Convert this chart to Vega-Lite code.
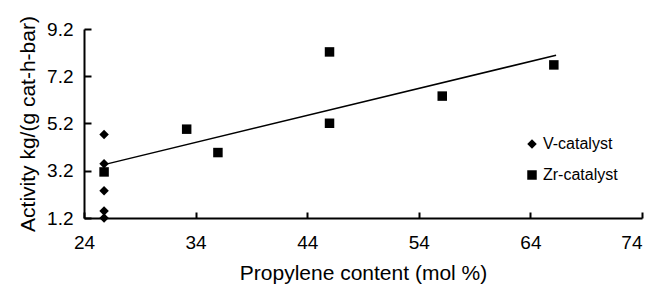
{
  "$schema": "https://vega.github.io/schema/vega-lite/v6.json",
  "autosize": {"type": "fit", "contains": "padding"},
  "width": 647,
  "height": 288,
  "padding": {"left": 17, "top": 20, "right": 4, "bottom": 5},
  "background": "white",
  "config": {
    "font": "Liberation Sans",
    "view": {"stroke": null},
    "axis": {"grid": false, "zindex": 1}
  },
  "datasets": {
    "points": [
      {"x": 25.8, "y": 4.73, "series": "V-catalyst"},
      {"x": 25.8, "y": 3.5, "series": "V-catalyst"},
      {"x": 25.8, "y": 2.35, "series": "V-catalyst"},
      {"x": 25.8, "y": 1.5, "series": "V-catalyst"},
      {"x": 25.8, "y": 1.2, "series": "V-catalyst"},
      {"x": 25.8, "y": 3.15, "series": "Zr-catalyst"},
      {"x": 33.2, "y": 4.96, "series": "Zr-catalyst"},
      {"x": 36.0, "y": 3.97, "series": "Zr-catalyst"},
      {"x": 46.0, "y": 8.23, "series": "Zr-catalyst"},
      {"x": 46.0, "y": 5.21, "series": "Zr-catalyst"},
      {"x": 56.1, "y": 6.36, "series": "Zr-catalyst"},
      {"x": 66.1, "y": 7.68, "series": "Zr-catalyst"}
    ],
    "trend": [
      {"x": 25.8, "y": 3.46},
      {"x": 66.3, "y": 8.09}
    ]
  },
  "layer": [
    {
      "data": {"name": "points"},
      "mark": {"type": "point", "filled": true, "size": 90, "opacity": 1, "color": "black"},
      "encoding": {
        "x": {
          "field": "x", "type": "quantitative",
          "scale": {"domain": [24, 74], "nice": false, "zero": false},
          "axis": {
            "title": "Propylene content (mol %)", "values": [24, 34, 44, 54, 64, 74],
            "domainColor": "black", "domainWidth": 2, "tickColor": "black", "tickWidth": 2,
            "tickSize": -6, "labelPadding": 21, "labelFontSize": 19, "titleFontSize": 21, "titlePadding": 10, "titleFontWeight": "normal",
            "labelAlign": {"condition": {"test": "datum.value == 74", "value": "right"}, "value": "center"}
          }
        },
        "y": {
          "field": "y", "type": "quantitative",
          "scale": {"domain": [1.2, 9.2], "nice": false, "zero": false},
          "axis": {
            "title": "Activity kg/(g cat-h-bar)", "values": [1.2, 3.2, 5.2, 7.2, 9.2], "format": ".1f",
            "domainColor": "black", "domainWidth": 2, "tickColor": "black", "tickWidth": 2,
            "tickSize": -7, "labelPadding": 18, "labelFontSize": 19, "titleFontSize": 21, "titlePadding": 8, "titleFontWeight": "normal"
          }
        },
        "shape": {
          "field": "series", "type": "nominal",
          "scale": {"domain": ["V-catalyst", "Zr-catalyst"], "range": ["diamond", "square"]},
          "legend": {
            "title": null, "orient": "none", "legendX": 440, "legendY": 107,
            "labelFontSize": 16, "symbolSize": 90, "symbolFillColor": "black", "symbolStrokeColor": "black",
            "symbolOpacity": 1, "rowPadding": 15, "labelOffset": 3, "padding": 0
          }
        }
      }
    },
    {
      "data": {"name": "trend"},
      "mark": {"type": "line", "color": "black", "strokeWidth": 1.5},
      "encoding": {
        "x": {"field": "x", "type": "quantitative"},
        "y": {"field": "y", "type": "quantitative"}
      }
    }
  ]
}
